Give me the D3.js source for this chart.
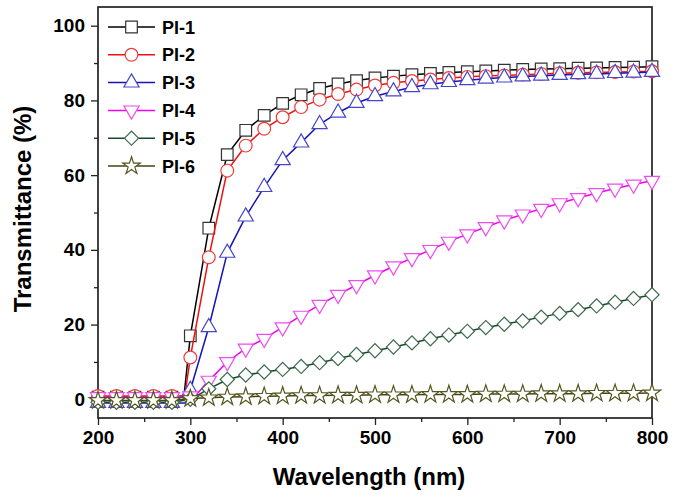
<!DOCTYPE html>
<html>
<head>
<meta charset="utf-8">
<script src="https://cdn.jsdelivr.net/npm/d3@7"></script>
<style>
  body { margin: 0; background: #fff; }
  svg { display: block; font-family: Arial, "Liberation Sans", sans-serif; }
  .tick text { font-weight: bold; font-size: 19px; fill: #000; }
  .tick line { stroke: #222; stroke-width: 1.3; }
</style>
</head>
<body>
<svg id="chart" width="674" height="499"></svg>
<script>
// wavelength grid of the markers (nm)
const wavelengths = [200, 220, 240, 260, 280, 300, 320, 340, 360, 380, 400, 420, 440, 460, 480, 500,
  520, 540, 560, 580, 600, 620, 640, 660, 680, 700, 720, 740, 760, 780, 800]

const pi1 = [0.6, 0.6, 0.6, 0.6, 0.6, 17, 45.8, 65.5, 72, 76, 79.2, 81.5, 83.2, 84.4, 85.3, 86,
  86.5, 86.9, 87.2, 87.5, 87.7, 87.9, 88.1, 88.3, 88.4, 88.5, 88.6, 88.7, 88.8, 88.9, 89]
const pi2 = [0.9, 0.9, 0.9, 0.9, 0.9, 11.2, 38, 61.2, 67.9, 72.4, 75.5, 78.2, 80.2, 81.7, 82.9, 84,
  84.7, 85.2, 85.6, 86, 86.3, 86.5, 86.7, 86.9, 87.1, 87.3, 87.4, 87.5, 87.6, 87.7, 87.8]
const pi3 = [-1, -1, -1, -1, -1, 2.5, 19.3, 39.2, 48.9, 56.8, 64, 68.7, 73.6, 76.7, 79.3, 81.1,
  82.4, 83.5, 84.3, 84.9, 85.4, 85.8, 86.1, 86.4, 86.6, 86.8, 87, 87.1, 87.3, 87.4, 87.6]
const pi4 = [0.6, 0.6, 0.6, 0.6, 0.6, 0.8, 5, 10, 13.6, 16.2, 19.3, 22.4, 25.3, 28, 30.6, 33.2,
  35.6, 37.8, 40, 42.2, 44.2, 46.1, 47.9, 49.5, 51, 52.5, 53.9, 55.2, 56.4, 57.5, 58.5]
const pi5 = [-0.8, -0.8, -0.8, -0.8, -0.8, 0, 2.8, 5.3, 6.5, 7.3, 8, 8.8, 9.8, 10.9, 12, 13,
  14, 15.1, 16.2, 17.2, 18.2, 19.2, 20.1, 21, 22, 23, 24, 25, 26, 27, 28]
const pi6 = [-0.3, -0.3, -0.3, -0.3, -0.3, 0.2, 0.4, 0.6, 0.7, 0.8, 0.9, 1, 1, 1.1, 1.1, 1.2,
  1.2, 1.2, 1.3, 1.3, 1.3, 1.4, 1.4, 1.4, 1.5, 1.5, 1.5, 1.6, 1.6, 1.6, 1.7]

// extra line points at the absorption edge (no marker there)
const pi1Edge = [[293, 0.6]]
const pi2Edge = [[294, 0.9]]
const pi3Edge = [[296, -1]]
const pi4Edge = [[305, 0.8]]

const xTicks = [200, 300, 400, 500, 600, 700, 800]
const xMinor = [250, 350, 450, 550, 650, 750]
const yTicks = [0, 20, 40, 60, 80, 100]
const yMinor = [10, 30, 50, 70, 90]

const series = [
  { name: 'PI-1', values: pi1, edge: pi1Edge, line: '#000000', mark: '#333333', shape: 'square' },
  { name: 'PI-2', values: pi2, edge: pi2Edge, line: '#ee1111', mark: '#f03a3a', shape: 'circle' },
  { name: 'PI-3', values: pi3, edge: pi3Edge, line: '#1414b8', mark: '#4646cc', shape: 'triangle' },
  { name: 'PI-4', values: pi4, edge: pi4Edge, line: '#ee00ee', mark: '#ee4cee', shape: 'down' },
  { name: 'PI-5', values: pi5, edge: [], line: '#164a2a', mark: '#3e6a4e', shape: 'diamond' },
  { name: 'PI-6', values: pi6, edge: [], line: '#45451a', mark: '#55551e', shape: 'star' }
]

const svg = d3.select('#chart')
const plotLeft = 98, plotRight = 652, plotTop = 7, plotBottom = 418

const x = d3.scaleLinear().domain([200, 800]).range([plotLeft, plotRight])
const y = d3.scaleLinear().domain([-5, 105]).range([plotBottom, plotTop])

// axes
const xAxis = svg.append('g').attr('transform', 'translate(0,' + plotBottom + ')')
  .call(d3.axisBottom(x).tickValues(xTicks).tickSize(7).tickSizeOuter(0).tickPadding(6))
xAxis.select('.domain').remove()
svg.append('g').attr('transform', 'translate(0,' + plotBottom + ')')
  .call(d3.axisBottom(x).tickValues(xMinor).tickSize(4).tickFormat(''))
  .select('.domain').remove()

const yAxis = svg.append('g').attr('transform', 'translate(' + plotLeft + ',0)')
  .call(d3.axisLeft(y).tickValues(yTicks).tickSize(7).tickSizeOuter(0).tickPadding(6))
yAxis.select('.domain').remove()
svg.append('g').attr('transform', 'translate(' + plotLeft + ',0)')
  .call(d3.axisLeft(y).tickValues(yMinor).tickSize(4).tickFormat(''))
  .select('.domain').remove()

svg.append('rect')
  .attr('x', plotLeft).attr('y', plotTop)
  .attr('width', plotRight - plotLeft).attr('height', plotBottom - plotTop)
  .attr('fill', 'none').attr('stroke', '#222').attr('stroke-width', 1.7)

// titles
svg.append('text')
  .attr('x', 369).attr('y', 485)
  .attr('text-anchor', 'middle')
  .style('font-weight', 'bold').style('font-size', '24px')
  .text('Wavelength (nm)')

svg.append('text')
  .attr('transform', 'translate(31,209) rotate(-90)')
  .attr('text-anchor', 'middle')
  .style('font-weight', 'bold').style('font-size', '24px')
  .text('Transmittance (%)')

function symbolFor(shape) {
  switch (shape) {
    case 'square': return d3.symbol(d3.symbolSquare, 135)
    case 'circle': return d3.symbol(d3.symbolCircle, 128)
    case 'triangle': return d3.symbol(d3.symbolTriangle, 100)
    case 'down': return d3.symbol(d3.symbolTriangle, 100)
    case 'diamond': return d3.symbol(d3.symbolSquare, 100)
    case 'star': return d3.symbol(d3.symbolStar, 95)
  }
}
function rotFor(shape) {
  if (shape === 'down') return ' rotate(180)'
  if (shape === 'diamond') return ' rotate(45)'
  return ''
}

const line = d3.line()
  .x(d => x(d[0]))
  .y(d => y(d[1]))

series.forEach(s => {
  const pts = wavelengths.map((w, i) => [w, s.values[i]])
  const linePts = pts.concat(s.edge).sort((a, b) => a[0] - b[0])
  const g = svg.append('g')
  g.append('path')
    .datum(linePts)
    .attr('d', line)
    .attr('fill', 'none')
    .attr('stroke', s.line)
    .attr('stroke-width', 1.5)
  g.selectAll('path.mark')
    .data(pts)
    .join('path')
    .attr('class', 'mark')
    .attr('d', symbolFor(s.shape))
    .attr('transform', d => 'translate(' + x(d[0]) + ',' + y(d[1]) + ')' + rotFor(s.shape))
    .attr('fill', '#fff')
    .attr('stroke', s.mark)
    .attr('stroke-width', 1.2)
})

// legend
const legend = svg.append('g')
series.forEach((s, i) => {
  const ly = 27 + i * 27.8
  legend.append('line')
    .attr('x1', 108).attr('x2', 155).attr('y1', ly).attr('y2', ly)
    .attr('stroke', s.line).attr('stroke-width', 1.5)
  legend.append('path')
    .attr('d', symbolFor(s.shape))
    .attr('transform', 'translate(131.5,' + ly + ')' + rotFor(s.shape))
    .attr('fill', '#fff').attr('stroke', s.mark).attr('stroke-width', 1.2)
  legend.append('text')
    .attr('x', 162).attr('y', ly + 6.5)
    .style('font-weight', 'bold').style('font-size', '18px')
    .text(s.name)
})
</script>
</body>
</html>
